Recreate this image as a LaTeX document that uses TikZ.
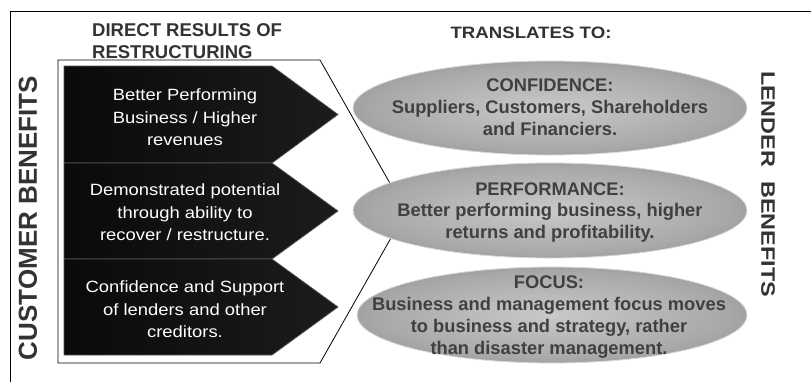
\documentclass[tikz,border=0pt]{standalone}
\usepackage{fontspec}
\setmainfont{Liberation Sans}
\newfontfamily\wideA{Liberation Sans}[FakeStretch=1.13]
\newfontfamily\wideB{Liberation Sans}[FakeStretch=1.2]
\usetikzlibrary{shapes.geometric}
\definecolor{headgray}{HTML}{333333}
\definecolor{elltext}{HTML}{404040}
\definecolor{ellin}{HTML}{C9C9C9}
\definecolor{ellmid}{HTML}{A9A9A9}
\definecolor{ellout}{HTML}{666666}
\definecolor{chevL}{HTML}{0A0A0A}
\definecolor{chevR}{HTML}{1C1C1C}
\definecolor{chevline}{HTML}{555555}
\pgfdeclareradialshading{ellshade}{\pgfpoint{0bp}{0bp}}{color(0bp)=(ellin); color(22bp)=(ellmid); color(50bp)=(ellout)}
\tikzset{
  frameline/.style={draw=black, line width=0.9pt},
  outline/.style={draw=black, line width=0.8pt},
  chev/.style={left color=chevL, right color=chevR, draw=chevline, line width=0.7pt},
  chevtext/.style={text=white, align=center, inner sep=0pt, font=\wideA\fontsize{16.3}{22.5}\selectfont},
  ell/.style={ellipse, inner sep=0pt, shading=ellshade, draw=gray!30, line width=0.8pt},
  elltxt/.style={text=elltext, align=center, inner sep=0pt, font=\bfseries\fontsize{18.3}{21.7}\selectfont},
  heading/.style={text=headgray, inner sep=0pt, font=\bfseries\fontsize{18.5}{22}\selectfont},
  sidelabel/.style={text=headgray, inner sep=0pt}
}
\begin{document}
\begin{tikzpicture}[x=1pt,y=-1pt]
\useasboundingbox (0,0) rectangle (811,381);
\fill[white] (0,0) rectangle (811,381);
% frame
\coordinate (ftl) at (10,11);
\coordinate (ftr) at (812,11);
\coordinate (fbl) at (10,382);
\draw[frameline] (fbl) -- (ftl) -- (ftr);
% outline pentagon
\coordinate (o1) at (58,60);
\coordinate (o2) at (320,60);
\coordinate (o3) at (406,211.5);
\coordinate (o4) at (320,363);
\coordinate (o5) at (58,363);
\draw[outline] (o1) -- (o2) -- (o3) -- (o4) -- (o5) -- cycle;
% chevrons
\shade[chev] (64,66) -- (272,66) -- (338,114.5) -- (272,163) -- (64,163) -- cycle;
\shade[chev] (64,163) -- (272,163) -- (338,211) -- (272,259) -- (64,259) -- cycle;
\shade[chev] (64,259) -- (272,259) -- (338,307) -- (272,355) -- (64,355) -- cycle;
\node[chevtext] (c1) at (185,117.5) {Better Performing\\Business / Higher\\revenues};
\node[chevtext] (c2) at (185,212.5) {Demonstrated potential\\through ability to\\recover / restructure.};
\node[chevtext] (c3) at (185,309.5) {Confidence and Support\\of lenders and other\\creditors.};
% ellipses
\node[ell, minimum width=394, minimum height=94] (e1) at (550,108) {};
\node[ell, minimum width=394, minimum height=95] (e2) at (550,210.5) {};
\node[ell, minimum width=390, minimum height=96] (e3) at (552,315) {};
\node[elltxt] (t1) at (550,107) {CONFIDENCE:\\Suppliers, Customers, Shareholders\\and Financiers.};
\node[elltxt] (t2) at (550,212.5) {PERFORMANCE:\\Better performing business, higher\\returns and profitability.};
\node[elltxt] (t3) at (549,317) {FOCUS:\\Business and management focus moves\\to business and strategy, rather\\than disaster management.};
% headings
\node[heading, anchor=west, align=left] (h1) at (92,41) {DIRECT RESULTS OF\\RESTRUCTURING};
\node[text=headgray, inner sep=0pt, font=\wideA\bfseries\fontsize{16.5}{20}\selectfont] (h2) at (531,33) {TRANSLATES TO:};
% side labels
\node[sidelabel, rotate=90, font=\bfseries\fontsize{26}{30}\selectfont] (cb) at (28,218) {CUSTOMER BENEFITS};
\node[sidelabel, rotate=-90, font=\wideB\bfseries\fontsize{19.5}{24}\selectfont] (lb) at (768,184) {LENDER\hspace{14pt}BENEFITS};
\end{tikzpicture}
\end{document}
